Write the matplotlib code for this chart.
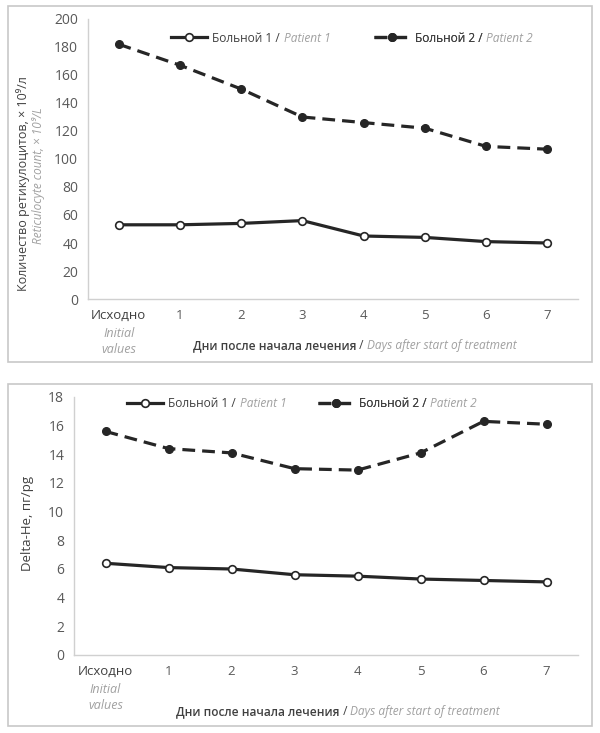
import matplotlib
matplotlib.use("Agg")
import matplotlib.pyplot as plt
from matplotlib.patches import Rectangle

plt.rcParams['font.family'] = ['Open Sans', 'DejaVu Sans']

# data
days = ['Исходно', '1', '2', '3', '4', '5', '6', '7']
retic_p1 = [53, 53, 54, 56, 45, 44, 41, 40]
retic_p2 = [182, 167, 150, 130, 126, 122, 109, 107]
dhe_p1 = [6.4, 6.1, 6.0, 5.6, 5.5, 5.3, 5.2, 5.1]
dhe_p2 = [15.6, 14.4, 14.1, 13.0, 12.9, 14.1, 16.3, 16.1]

W, H = 600, 733
DARK = '#262626'
TXT = '#404040'
GRAY = '#a0a0a0'
TICK = '#595959'


def px(x0, y0, x1, y1):
    # pixel box -> figure fraction [left, bottom, width, height]
    return [x0 / W, 1 - y1 / H, (x1 - x0) / W, (y1 - y0) / H]


def chain(ax, first, parts):
    # place text pieces one after another on the same line
    prev = first
    for s, kw in parts:
        prev = ax.annotate(s, xy=(1, 0), xycoords=prev, va='bottom', ha='left',
                           annotation_clip=False, zorder=7, **kw)
    return prev


def panel(frame, box, p1, p2, ymax, ystep, ylabels, leg_x, leg_y,
          xlab_x, xlab_off, fs):
    fig.add_artist(Rectangle((frame[0], frame[1]), frame[2], frame[3],
                             transform=fig.transFigure, fill=False,
                             edgecolor='#c8c8c8', lw=1.2))
    ax = fig.add_axes(box)
    x = list(range(len(days)))
    l1, = ax.plot(x, p1, color=DARK, lw=2.3, marker='o', ms=5.5,
                  mfc='white', mec=DARK, mew=1.2, label='Больной 1 /')
    l2, = ax.plot(x, p2, color=DARK, lw=2.3, ls=(0, (4, 2.2)), marker='o',
                  ms=5.5, mfc=DARK, mec=DARK, label='Больной 2 /')
    ax.set_xlim(-0.5, len(days) - 0.5)
    ax.set_ylim(0, ymax)
    ax.set_yticks(range(0, ymax + 1, ystep))
    ax.set_xticks(x)
    ax.set_xticklabels(days)
    for s in ['top', 'right']:
        ax.spines[s].set_visible(False)
    for s in ['left', 'bottom']:
        ax.spines[s].set_color('#d0d0d0')
        ax.spines[s].set_linewidth(1)
    ax.tick_params(length=0, labelsize=10, colors=TICK, pad=7)
    ax.tick_params(axis='x', labelsize=9.5)
    ax.get_xticklabels()[0].set_color(TXT)

    # "Initial values" under the first tick
    ax.annotate('Initial\nvalues', xy=(0, 0), xycoords=('data', 'axes fraction'),
                xytext=(0, -20), textcoords='offset points', ha='center',
                va='top', fontsize=9, style='italic', color=GRAY,
                linespacing=1.3, annotation_clip=False)

    # x label
    t = ax.annotate('Дни после начала лечения', xy=(xlab_x, 0),
                    xycoords=('figure pixels', 'axes fraction'),
                    xytext=(0, -xlab_off), textcoords='offset points',
                    ha='left', va='top', fontsize=fs, fontweight='semibold',
                    color=TXT, annotation_clip=False)
    chain(ax, t, [(' / ', dict(fontsize=fs, color=TXT)),
                  ('Days after start of treatment',
                   dict(fontsize=fs, style='italic', color=GRAY))])

    # y label(s)
    for (txt, xx, yy, kw) in ylabels:
        fig.text(xx / W, 1 - yy / H, txt, rotation=90, ha='center',
                 va='center', **kw)

    # one legend per entry so each can sit where the reference has it
    left, width = box[0] * W, box[2] * W
    for line, name, xp in zip([l1, l2], ['Patient 1', 'Patient 2'], leg_x):
        leg = ax.legend(handles=[line], loc='upper left',
                        bbox_to_anchor=((xp - left) / width, leg_y),
                        frameon=False, fontsize=fs, handlelength=3.0,
                        handletextpad=0.4, borderaxespad=0, borderpad=0)
        leg.set_zorder(5)
        ax.add_artist(leg)
        txt = leg.get_texts()[0]
        txt.set_color(TXT)
        ax.annotate(name, xy=(1, 0), xycoords=txt, xytext=(3, 0),
                    textcoords='offset points', va='bottom', ha='left',
                    fontsize=fs, style='italic', color=GRAY, zorder=7,
                    annotation_clip=False)
    return ax


fig = plt.figure(figsize=(6, 7.33), dpi=100)

panel(px(8, 6, 592, 362), px(88, 19, 578, 299), retic_p1, retic_p2, 200, 20,
      [('Количество ретикулоцитов, × 10⁹/л', 23, 184,
        dict(color=TXT, fontsize=9)),
       ('Reticulocyte count, × 10⁹/L', 39, 176,
        dict(color=GRAY, style='italic', fontsize=8.5))],
      [171, 374], 0.955, 193, 29, 8.6)

panel(px(8, 384, 592, 726), px(74, 397, 578, 655), dhe_p1, dhe_p2, 18, 2,
      [('Delta-He, пг/pg', 28, 523, dict(color=TXT, fontsize=9.5))],
      [127, 318], 1.0, 176, 36, 8.6)

fig.savefig('out.png', dpi=100)
